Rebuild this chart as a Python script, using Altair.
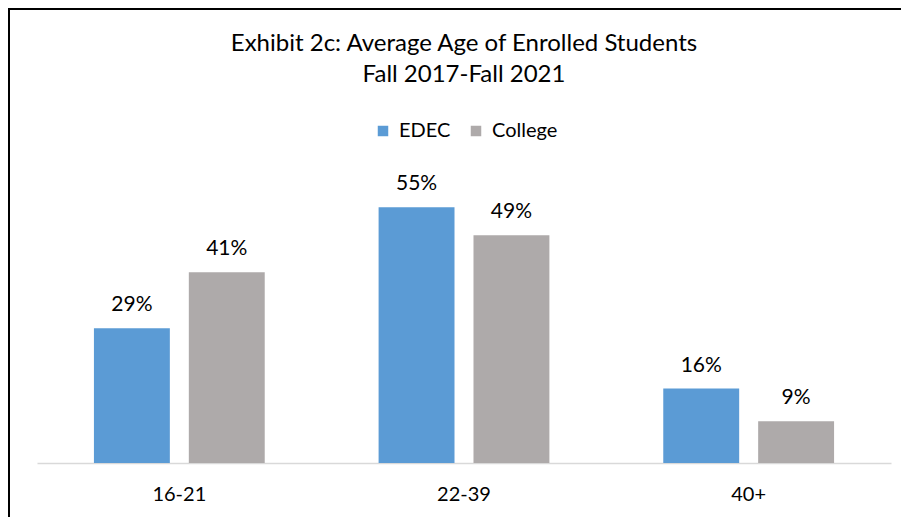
import altair as alt
import pandas as pd

categories = ["16-21", "22-39", "40+"]
series = ["EDEC", "College"]
edec = [29, 55, 16]
college = [41, 49, 9]
colors = ["#5B9BD5", "#AEAAAA"]

rows = []
for c, e, g in zip(categories, edec, college):
    rows.append({"age": c, "group": "EDEC", "pct": e, "label": f"{e}%"})
    rows.append({"age": c, "group": "College", "pct": g, "label": f"{g}%"})
df = pd.DataFrame(rows)

FONT = "Lato"
W, H = 854, 279

x = alt.X("age:N", sort=categories,
          scale=alt.Scale(paddingInner=0.4, paddingOuter=0.2),
          axis=alt.Axis(title=None, labelAngle=0, ticks=False, domainColor="#D9D9D9",
                        domainWidth=1.5, labelFont=FONT, labelFontSize=20,
                        labelColor="#000000", labelPadding=21, grid=False))
xo = alt.XOffset("group:N", sort=series,
                 scale=alt.Scale(paddingInner=0.2, paddingOuter=0))
y = alt.Y("pct:Q", scale=alt.Scale(domain=[0, 60], nice=False), axis=None)

base = alt.Chart(df)
bars = base.mark_bar().encode(
    x=x, xOffset=xo, y=y,
    color=alt.Color("group:N", sort=series,
                    scale=alt.Scale(domain=series, range=colors),
                    legend=alt.Legend(title=None, orient="none", direction="horizontal",
                                      legendX=336, legendY=-63, symbolType="square",
                                      symbolSize=110, symbolStrokeWidth=0,
                                      labelFont=FONT, labelFontSize=20, labelColor="#000000",
                                      columnPadding=15, symbolOffset=0, labelOffset=6)),
)
labels = base.mark_text(font=FONT, fontSize=21, color="#000000", baseline="bottom", dy=-13).encode(
    x=x, xOffset=xo, y=y, text="label:N"
)

frame = alt.Chart(alt.Data(values=[{}]))
left_line = frame.mark_rule(color="#000000", strokeWidth=2).encode(
    x=alt.value(-28), y=alt.value(-176), y2=alt.value(340))
top_line = frame.mark_rule(color="#000000", strokeWidth=2).encode(
    x=alt.value(-29), x2=alt.value(870), y=alt.value(-175))

chart = alt.layer(bars, labels, left_line, top_line).properties(
    width=W, height=H,
    title=alt.Title(["Exhibit 2c: Average Age of Enrolled Students", "Fall 2017-Fall 2021"],
                    font=FONT, fontSize=24, fontWeight="normal", color="#000000",
                    anchor="middle", lineHeight=31, offset=-80),
    autosize=alt.AutoSizeParams(type="none"),
    padding={"left": 29, "top": 176, "right": 10, "bottom": 54},
).configure_view(stroke=None)

chart.save("out.html", embed_options={"renderer": "svg", "actions": False})
